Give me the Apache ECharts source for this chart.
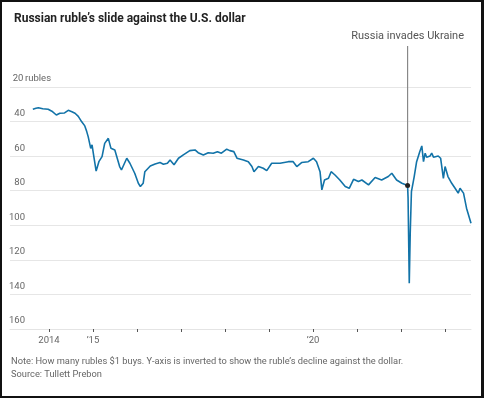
<!DOCTYPE html>
<html>
<head>
<meta charset="utf-8">
<script src="https://cdn.jsdelivr.net/npm/echarts@6/dist/echarts.min.js"></script>
<style>
  html, body { margin: 0; padding: 0; background: #fff; }
  #wrap { position: relative; width: 484px; height: 398px; }
  #chart { position: absolute; left: 0; top: 0; width: 484px; height: 398px; }
  #frame { position: absolute; left: 0; top: 0; width: 484px; height: 398px; box-sizing: border-box;
           border: 2px solid #111; border-right-width: 3px; pointer-events: none; }
</style>
</head>
<body>
<div id="wrap">
  <div id="chart"></div>
  <div id="frame"></div>
</div>
<script>
// rubles per dollar
const dates = [
  '2013-08-20', '2013-09-15', '2013-10-05', '2013-11-10', '2013-12-25', '2014-01-25', '2014-03-03',
  '2014-04-01', '2014-05-10', '2014-06-10', '2014-07-10', '2014-08-05', '2014-09-01', '2014-09-28',
  '2014-10-25', '2014-11-10', '2014-11-22', '2014-12-13', '2014-12-24', '2015-01-08', '2015-01-27',
  '2015-02-20', '2015-03-17', '2015-04-08', '2015-05-08', '2015-05-30', '2015-07-01', '2015-08-10',
  '2015-08-25', '2015-10-08', '2015-11-03', '2015-11-17', '2015-12-13', '2016-01-12', '2016-01-29',
  '2016-02-21', '2016-03-06', '2016-04-20', '2016-05-30', '2016-07-10', '2016-08-07', '2016-09-09',
  '2016-10-01', '2016-11-03', '2016-12-10', '2017-01-20', '2017-03-15', '2017-04-27', '2017-05-23',
  '2017-07-05', '2017-08-15', '2017-09-25', '2017-10-30', '2017-12-02', '2018-01-15', '2018-02-10',
  '2018-03-15', '2018-04-10', '2018-06-03', '2018-07-13', '2018-08-12', '2018-08-29', '2018-10-05',
  '2018-11-14', '2018-12-13', '2019-01-23', '2019-04-02', '2019-06-10', '2019-07-20', '2019-08-19',
  '2019-09-28', '2019-11-22', '2020-01-04', '2020-01-30', '2020-02-28', '2020-03-14', '2020-04-05',
  '2020-05-08', '2020-05-30', '2020-07-01', '2020-08-10', '2020-09-24', '2020-10-27', '2020-12-02',
  '2021-01-12', '2021-02-10', '2021-04-06', '2021-05-31', '2021-07-24', '2021-09-17', '2021-10-16',
  '2021-11-25', '2022-01-08', '2022-02-24', '2022-02-28', '2022-03-10', '2022-03-18', '2022-03-28',
  '2022-04-20', '2022-05-10', '2022-05-22', '2022-06-05', '2022-06-22', '2022-07-06', '2022-07-20',
  '2022-08-01', '2022-08-30', '2022-09-12', '2022-09-27', '2022-11-05', '2022-11-25', '2022-12-18',
  '2023-01-01', '2023-01-25', '2023-02-25', '2023-03-25', '2023-04-20', '2023-05-05', '2023-06-03',
  '2023-06-28', '2023-07-12', '2023-08-04'
];
const rubles = [
  32.9, 32.3, 32.0, 32.6, 32.9, 34.0, 36.2,
  35.2, 35.0, 33.5, 34.3, 35.2, 37.0, 40.0,
  42.5, 45.8, 48.7, 55.5, 53.5, 60.3, 68.6,
  63.0, 60.3, 52.6, 49.7, 55.5, 56.4, 66.0,
  68.0, 61.2, 64.1, 65.0, 69.9, 75.7, 77.6,
  75.7, 69.0, 65.7, 64.5, 63.7, 64.7, 64.1,
  62.2, 65.0, 61.2, 59.3, 56.8, 56.4, 58.0,
  59.3, 58.0, 58.3, 57.4, 58.3, 56.0, 56.8,
  57.4, 61.2, 62.2, 63.2, 66.0, 69.0, 66.0,
  67.0, 68.4, 64.1, 64.1, 63.2, 63.2, 66.0,
  63.7, 63.2, 61.2, 63.2, 69.0, 79.5, 73.8,
  72.8, 69.0, 70.9, 73.8, 77.6, 78.6, 73.4,
  74.7, 73.8, 76.6, 72.4, 73.8, 71.8, 69.9,
  73.8, 75.7, 77.0, 84.0, 133.5, 104.6, 80.5,
  71.8, 63.2, 64.1, 57.4, 54.1, 63.2, 58.3,
  60.6, 59.9, 58.3, 60.6, 59.9, 61.2, 72.8,
  66.0, 71.8, 75.7, 78.6, 81.4, 78.6, 81.4,
  90.1, 91.1, 98.8
];
const yTicks = [20, 40, 60, 80, 100, 120, 140, 160];
const yearTicks = [2014, 2015, 2016, 2017, 2018, 2019, 2020, 2021, 2022, 2023];
const yearLabels = { 2014: '2014', 2015: '\u201915', 2020: '\u201920' };
const invasionDate = '2022-02-24';
const invasionValue = 77.0;

const FONT = '"Liberation Sans Narrow", "Roboto", sans-serif';

function toYear(s) {
  const d = new Date(s + 'T00:00:00Z');
  const start = Date.UTC(d.getUTCFullYear(), 0, 1);
  return d.getUTCFullYear() + (d.getTime() - start) / (365 * 86400000);
}

const seriesData = dates.map((d, i) => [toYear(d), rubles[i]]);
const invX = toYear(invasionDate);

const chart = echarts.init(document.getElementById('chart'));

chart.setOption({
  animation: false,
  backgroundColor: '#fff',
  title: {
    text: 'Russian ruble\u2019s slide against the U.S. dollar',
    left: 9,
    top: 8,
    textStyle: { fontFamily: FONT, fontSize: 12, fontWeight: 'bold', color: '#222' }
  },
  grid: { left: 10, right: 13, top: 87, bottom: 69 },
  xAxis: {
    type: 'value',
    min: 2013.114,
    max: seriesData[seriesData.length - 1][0],
    splitLine: { show: false },
    axisLine: { show: true, lineStyle: { color: '#e4e4e4', width: 1 } },
    axisTick: {
      show: true,
      customValues: yearTicks,
      length: 3,
      lineStyle: { color: '#555' }
    },
    axisLabel: {
      customValues: yearTicks,
      margin: 7,
      fontFamily: FONT,
      fontSize: 9.5,
      color: '#666',
      formatter: v => yearLabels[Math.round(v)] || ''
    }
  },
  yAxis: {
    type: 'value',
    inverse: true,
    min: 20,
    max: 160,
    interval: 20,
    axisLine: { show: false },
    axisTick: { show: false },
    splitLine: { lineStyle: { color: '#e6e6e6', width: 1 } },
    axisLabel: {
      inside: true,
      margin: 1,
      verticalAlign: 'bottom',
      padding: [0, 0, 3, 0],
      fontFamily: FONT,
      fontSize: 9.5,
      color: '#666',
      formatter: v => v === yTicks[0] ? '{n|' + v + '}{u|rubles}' : '{n|' + v + '}',
      rich: {
        n: { width: 14, align: 'right', fontFamily: FONT, fontSize: 9.5, color: '#666' },
        u: { fontFamily: FONT, fontSize: 9.5, color: '#666' }
      }
    }
  },
  series: [{
    type: 'line',
    data: seriesData,
    showSymbol: false,
    smooth: false,
    lineStyle: { color: '#1273a8', width: 1.6 },
    markPoint: {
      symbol: 'circle',
      symbolSize: 5,
      itemStyle: { color: '#222' },
      label: { show: false },
      data: [{ coord: [invX, invasionValue] }]
    }
  }]
});

// annotation line + label, positioned from the data point
const p = chart.convertToPixel({ gridIndex: 0 }, [invX, invasionValue]);
chart.setOption({
  graphic: [
    {
      type: 'line',
      shape: { x1: p[0], y1: 46, x2: p[0], y2: p[1] },
      style: { stroke: '#888', lineWidth: 1.2 },
      z: 1
    },
    {
      type: 'text',
      x: p[0],
      y: 36,
      style: {
        text: 'Russia invades Ukraine',
        fontFamily: FONT,
        fontSize: 11,
        fill: '#555',
        align: 'center',
        verticalAlign: 'middle'
      }
    },
    {
      type: 'text',
      left: 11,
      top: 355,
      style: {
        text: 'Note: How many rubles $1 buys. Y-axis is inverted to show the ruble\u2019s decline against the dollar.\nSource: Tullett Prebon',
        fontFamily: FONT,
        fontSize: 9.3,
        lineHeight: 13,
        fill: '#666'
      }
    }
  ]
});
</script>
</body>
</html>
